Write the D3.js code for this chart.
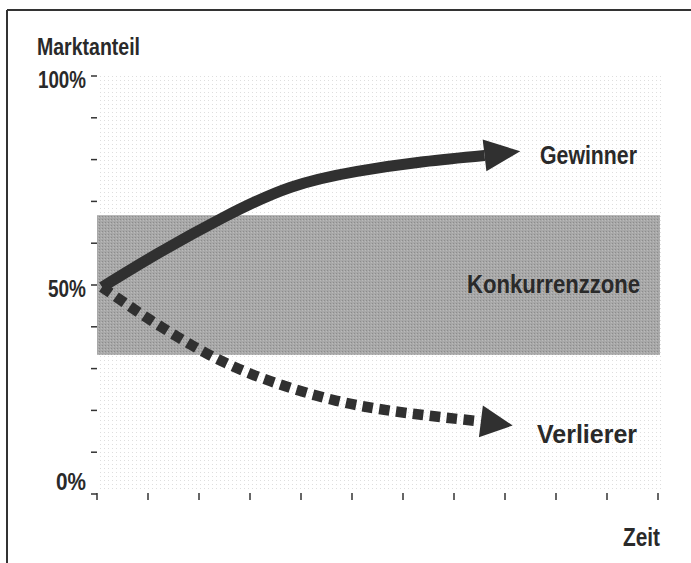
<!DOCTYPE html>
<html>
<head>
<meta charset="utf-8">
<script src="https://cdn.jsdelivr.net/npm/d3@7"></script>
<style>
  body { margin: 0; background: #fff; }
  text { font-family: "Liberation Sans Narrow", "Arial Narrow", "Liberation Sans", sans-serif; font-weight: bold; fill: #2a2a2a; }
</style>
</head>
<body>
<div id="chart"></div>
<script>
// y axis: share in percent, x axis: time steps
var yTickValues = [0, 10, 20, 30, 40, 50, 60, 70, 80, 90, 100];
var yLabelValues = [0, 50, 100];
var yLabelTexts = ["0%", "50%", "100%"];
var xTickValues = [0, 1, 2, 3, 4, 5, 6, 7, 8, 9, 10, 11];

// competition zone (band)
var zoneRange = [33.3, 66.7];

// winner curve
var winnerT = [0.1, 1.2, 2.5, 3.8, 5.1, 6.4, 7.6];
var winnerV = [49.5, 57.6, 66.3, 73.4, 77.2, 79.5, 81.0];
var winnerTip = [8.3, 82.0];

// loser curve
var loserT = [0.1, 1.0, 2.2, 3.4, 4.7, 6.0, 7.5];
var loserV = [49.5, 42.0, 33.3, 27.0, 22.3, 19.5, 17.4];
var loserTip = [8.15, 16.4];

var width = 691, height = 563;

var svg = d3.select("#chart").append("svg")
    .attr("width", width)
    .attr("height", height);

var x = d3.scaleLinear().domain([0, 11]).range([97, 658]);
var y = d3.scaleLinear().domain([0, 100]).range([494, 76]);

var defs = svg.append("defs");

//light dotted raster behind the plot
var dots = defs.append("pattern")
    .attr("id", "dots")
    .attr("width", 4).attr("height", 4)
    .attr("patternUnits", "userSpaceOnUse");
dots.append("rect").attr("width", 1).attr("height", 1).attr("fill", "#dedede");

//grainy gray for the band
var grain = defs.append("pattern")
    .attr("id", "grain")
    .attr("width", 3).attr("height", 3)
    .attr("patternUnits", "userSpaceOnUse");
grain.append("rect").attr("width", 3).attr("height", 3).attr("fill", "#a8a8a8");
grain.append("rect").attr("width", 1).attr("height", 1).attr("fill", "#8c8c8c");
grain.append("rect").attr("x", 2).attr("y", 1).attr("width", 1).attr("height", 1).attr("fill", "#bababa");

// frame
svg.append("line")
    .attr("x1", 7).attr("y1", 10).attr("x2", width).attr("y2", 10)
    .attr("stroke", "#333").attr("stroke-width", 2);
svg.append("line")
    .attr("x1", 7).attr("y1", 10).attr("x2", 7).attr("y2", height)
    .attr("stroke", "#333").attr("stroke-width", 2);

// raster
svg.append("rect")
    .attr("x", x(0) + 3)
    .attr("y", y(100))
    .attr("width", x(11) - x(0))
    .attr("height", y(0) - y(100) - 4)
    .attr("fill", "url(#dots)");

// band
svg.append("rect")
    .attr("x", x(0))
    .attr("y", y(zoneRange[1]))
    .attr("width", x(11) - x(0) + 2)
    .attr("height", y(zoneRange[0]) - y(zoneRange[1]))
    .attr("fill", "url(#grain)");

// y ticks
svg.selectAll(".ytick")
    .data(yTickValues)
    .enter()
    .append("line")
    .attr("class", "ytick")
    .attr("x1", x(0) - 6).attr("x2", x(0))
    .attr("y1", function(d){ return y(d); })
    .attr("y2", function(d){ return y(d); })
    .attr("stroke", "#333").attr("stroke-width", 1.5);

var labelWidths = [30, 38, 48];
svg.selectAll(".ylabel")
    .data(yLabelValues)
    .enter()
    .append("text")
    .attr("class", "ylabel")
    .attr("x", x(0) - 11)
    .attr("y", function(d){ return d === 0 ? y(d) - 4 : y(d) + 12; })
    .attr("text-anchor", "end")
    .attr("textLength", function(d, i){ return labelWidths[i]; })
    .attr("lengthAdjust", "spacingAndGlyphs")
    .style("font-size", "23px")
    .text(function(d, i){ return yLabelTexts[i]; });

// x ticks
svg.selectAll(".xtick")
    .data(xTickValues)
    .enter()
    .append("line")
    .attr("class", "xtick")
    .attr("x1", function(d){ return x(d); })
    .attr("x2", function(d){ return x(d); })
    .attr("y1", y(0) - 1)
    .attr("y2", y(0) + 6)
    .attr("stroke", "#333").attr("stroke-width", 1.5);

var line = d3.line()
    .x(function(d){ return x(d[0]); })
    .y(function(d){ return y(d[1]); })
    .curve(d3.curveNatural);

function arrowHead(base, tip, len, halfW){
    var bx = x(base[0]), by = y(base[1]);
    var tx = x(tip[0]), ty = y(tip[1]);
    var dx = tx - bx, dy = ty - by;
    var l = Math.sqrt(dx*dx + dy*dy);
    var ux = dx / l, uy = dy / l;
    var sx = tx - ux * len, sy = ty - uy * len;
    return [[tx, ty], [sx - uy * halfW, sy + ux * halfW], [sx + uy * halfW, sy - ux * halfW]];
}

// winner
var winnerData = winnerT.map(function(t, i){ return [t, winnerV[i]]; });
svg.append("path")
    .attr("d", line(winnerData))
    .attr("fill", "none")
    .attr("stroke", "#303030")
    .attr("stroke-width", 11)
    .attr("stroke-linecap", "butt");
svg.append("polygon")
    .attr("points", arrowHead(winnerData[winnerData.length - 1], winnerTip, 36, 16).join(" "))
    .attr("fill", "#303030");

// loser
var loserData = loserT.map(function(t, i){ return [t, loserV[i]]; });
svg.append("path")
    .attr("d", line(loserData))
    .attr("fill", "none")
    .attr("stroke", "#303030")
    .attr("stroke-width", 10.5)
    .attr("stroke-dasharray", "10.5,6.5");
svg.append("polygon")
    .attr("points", arrowHead(loserData[loserData.length - 1], loserTip, 32, 16).join(" "))
    .attr("fill", "#303030");

// labels
function label(txt, lx, ly, size, len, anchor){
    svg.append("text")
        .attr("x", lx).attr("y", ly)
        .attr("text-anchor", anchor || "start")
        .attr("textLength", len)
        .attr("lengthAdjust", "spacingAndGlyphs")
        .style("font-size", size + "px")
        .text(txt);
}
label("Marktanteil", 37, 55, 24, 103);
label("Gewinner", 540, 164, 26, 97);
label("Konkurrenzzone", 467, 293, 26, 173);
label("Verlierer", 537, 443, 26, 100);
label("Zeit", 660, 546, 26, 37, "end");
</script>
</body>
</html>
